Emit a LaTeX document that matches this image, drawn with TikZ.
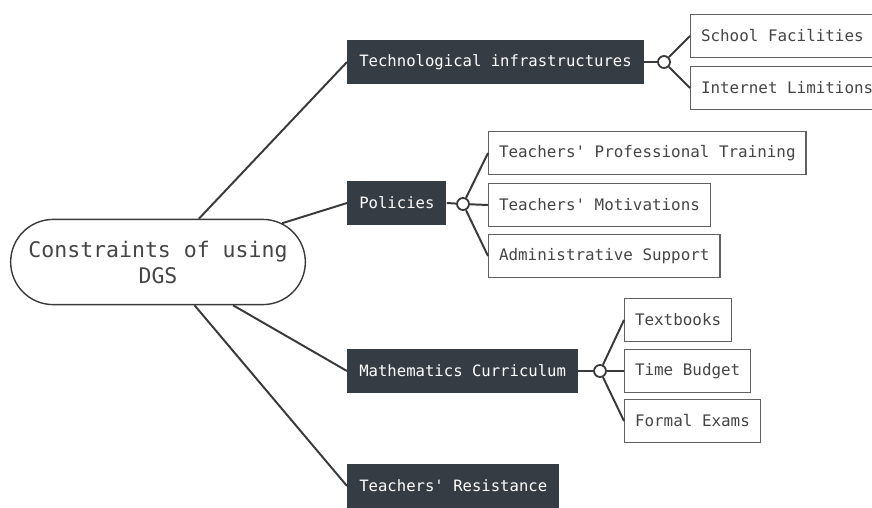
\documentclass[tikz,border=0pt]{standalone}
\usepackage{fontspec}
\setmonofont{DejaVu Sans Mono}
\usetikzlibrary{shapes.misc}
\definecolor{dgsDark}{HTML}{363C43}
\definecolor{dgsLine}{HTML}{3A3A3A}
\definecolor{dgsText}{HTML}{454545}
\begin{document}
\begin{tikzpicture}[x=0.025cm,y=-0.025cm]
\tikzset{
    dgsRoot/.style={rounded rectangle,draw=dgsLine,line width=1pt,fill=white,minimum width=7.6cm,minimum height=2.13cm,align=center,text=dgsText,font=\ttfamily\fontsize{15.3}{18.5}\selectfont},
    dgsHead/.style={rectangle,fill=dgsDark,text=white,minimum height=1.1cm,inner xsep=0.3cm,anchor=west,font=\ttfamily\fontsize{11.1}{12}\selectfont},
    dgsLeaf/.style={rectangle,draw=dgsLine!80,line width=0.9pt,fill=white,text=dgsText,minimum height=1.07cm,inner xsep=0.26cm,anchor=west,font=\ttfamily\fontsize{11.3}{12}\selectfont},
    dgsHub/.style={circle,draw=dgsLine,line width=1.3pt,fill=white,inner sep=0pt,minimum size=0.3cm},
    dgsLink/.style={draw=dgsLine,line width=1.4pt},
}
\useasboundingbox (0,0) rectangle (872,507);

% root
\node[dgsRoot] (root) at (158,262) {Constraints of using\\DGS};

% main branches
\node[dgsHead] (tech) at (347,62) {Technological infrastructures};
\node[dgsHead] (policy) at (347,203) {Policies};
\node[dgsHead] (curric) at (347,371) {Mathematics Curriculum};
\node[dgsHead] (resist) at (347,486) {Teachers' Resistance};

% leaves
\foreach \n/\x/\y/\t in {
    school/690/36/School Facilities, internet/690/88/Internet Limitions,
    training/488/153/Teachers' Professional Training, motiv/488/205/Teachers' Motivations,
    admin/488/256/Administrative Support,
    books/624/320/Textbooks, budget/624/371/Time Budget, exams/624/421/Formal Exams
} {
    \node[dgsLeaf] (\n) at (\x,\y) {\t};
}

% hubs
\node[dgsHub] (techHub) at (664,62) {};
\node[dgsHub] (policyHub) at (463,204) {};
\node[dgsHub] (curricHub) at (600,371) {};

% links
\foreach \c in {tech,policy,curric,resist} {
    \draw[dgsLink] (root) -- (\c.west);
}
\draw[dgsLink] (tech.east) -- (techHub);
\draw[dgsLink] (policy.east) -- (policyHub);
\draw[dgsLink] (curric.east) -- (curricHub);
\foreach \h/\l in {techHub/school, techHub/internet, policyHub/training, policyHub/motiv, policyHub/admin, curricHub/books, curricHub/budget, curricHub/exams} {
    \draw[dgsLink] (\h) -- (\l.west);
}
\end{tikzpicture}
\end{document}
